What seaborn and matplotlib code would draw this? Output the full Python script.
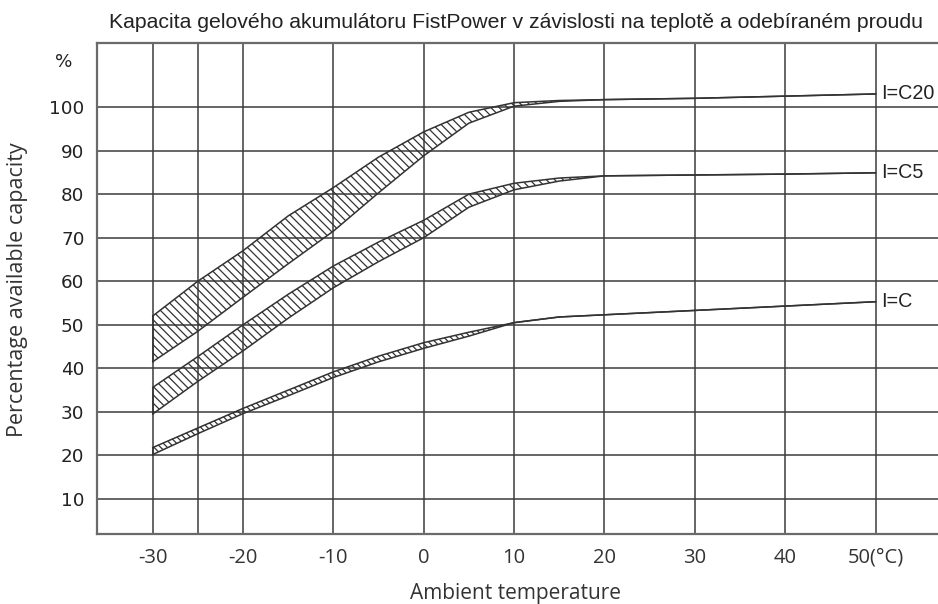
import numpy as np
import pandas as pd
import matplotlib
matplotlib.use("Agg")
import matplotlib.pyplot as plt
import matplotlib.transforms as mtransforms
import seaborn as sns

# ---- data ----
temps = [-30, -25, -20, -15, -10, -5, 0, 5, 10, 15, 20, 30, 40, 50]
c20_upper = [52.0, 60.0, 67.0, 75.0, 81.5, 88.5, 94.3, 98.8, 101.0, 101.5, 101.7, 102.0, 102.5, 103.0]
c20_lower = [41.5, 48.5, 56.3, 64.0, 71.5, 80.3, 88.8, 96.3, 100.2, 101.3, 101.7, 102.0, 102.5, 103.0]
c5_upper = [35.6, 42.7, 50.0, 57.0, 63.5, 69.0, 74.0, 80.0, 82.5, 83.7, 84.2, 84.4, 84.6, 84.9]
c5_lower = [29.5, 37.0, 44.0, 51.5, 58.5, 64.5, 70.0, 77.0, 81.0, 83.0, 84.2, 84.4, 84.6, 84.9]
c1_upper = [21.8, 26.3, 30.8, 35.0, 39.2, 42.8, 45.9, 48.3, 50.5, 51.8, 52.3, 53.3, 54.3, 55.3]
c1_lower = [20.2, 25.0, 29.6, 33.7, 37.9, 41.5, 44.6, 47.4, 50.5, 51.8, 52.3, 53.3, 54.3, 55.3]
series_names = ["I=C20", "I=C5", "I=C"]

x_ticks = [-30, -20, -10, 0, 10, 20, 30, 40, 50]
x_tick_labels = ["-30", "-20", "-10", "0", "10", "20", "30", "40", "50(°C)"]
x_grid = [-30, -25, -20, -10, 0, 10, 20, 30, 40, 50]
y_ticks = [10, 20, 30, 40, 50, 60, 70, 80, 90, 100]

title = "Kapacita gelového akumulátoru FistPower v závislosti na teplotě a odebíraném proudu"
x_label = "Ambient temperature"
y_label = "Percentage available capacity"

# ---- figure ----
sns.set_theme(style="white")
plt.rcParams["font.family"] = ["Liberation Sans", "DejaVu Sans"]
plt.rcParams["hatch.linewidth"] = 0.9

W, H = 938, 604
fig = plt.figure(figsize=(W / 100, H / 100), dpi=100)
ax = fig.add_axes([97 / W, 1 - 534 / H, (W - 97) / W, (534 - 43) / H])

ax.set_xlim(-36.15, 56.9)
ax.set_ylim(1.97, 114.7)

line_col = "#333333"
grid_col = "#3c3c3c"

# grid
for gx in x_grid:
    ax.axvline(gx, color=grid_col, lw=1.1, zorder=1)
for gy in y_ticks:
    ax.axhline(gy, color=grid_col, lw=1.1, zorder=1)

bands = [(c20_upper, c20_lower), (c5_upper, c5_lower), (c1_upper, c1_lower)]
hatches = ["\\\\\\\\", "\\\\\\\\", "\\\\\\\\\\"]
rows = []
for name, (up, lo) in zip(series_names, bands):
    for t, u, l in zip(temps, up, lo):
        rows.append({"series": name, "edge": "upper", "T": t, "v": u})
        rows.append({"series": name, "edge": "lower", "T": t, "v": l})
df = pd.DataFrame(rows)

for name, (up, lo), h in zip(series_names, bands, hatches):
    up_a = np.array(up)
    lo_a = np.array(lo)
    ax.fill_between(temps, lo_a, up_a, where=up_a >= lo_a, facecolor="none",
                    edgecolor=line_col, hatch=h, linewidth=0.0, zorder=2)
    sub = df[df.series == name]
    sns.lineplot(data=sub, x="T", y="v", units="edge", estimator=None, color=line_col,
                 lw=1.1, ax=ax, zorder=3, legend=False)
    # closing edge at the cold end
    ax.plot([temps[0], temps[0]], [lo[0], up[0]], color=line_col, lw=1.1, zorder=3)
    ax.text(temps[-1] + 0.6, up[-1], name, ha="left", va="center",
            fontsize=14.2, color="#222222", family=["Liberation Sans", "DejaVu Sans"], zorder=4)

# ticks
ax.set_xticks(x_ticks)
ax.set_xticklabels(x_tick_labels, family=["Open Sans", "DejaVu Sans"], fontsize=14.5, color="#333333")
ax.set_yticks(y_ticks)
ax.set_yticklabels([str(v) for v in y_ticks], family=["DejaVu Sans"], fontsize=13.2, color="#222222")
ax.tick_params(axis="both", length=0)
ax.tick_params(axis="x", pad=10)
ax.tick_params(axis="y", pad=9)
ax.set_xlabel("")
ax.set_ylabel("")

# "%" marker above 100
trans = mtransforms.blended_transform_factory(fig.transFigure, ax.transData)
ax.text(55 / W, 110.3, "%", transform=trans, ha="left", va="center", fontsize=13.2,
        family=["DejaVu Sans"], color="#222222")

for side in ["left", "top", "bottom"]:
    ax.spines[side].set_visible(True)
    ax.spines[side].set_color("#6a6a6a")
    ax.spines[side].set_linewidth(1.6)
ax.spines["right"].set_visible(False)

fig.text(516 / W, 1 - 22 / H, title, ha="center", va="center", fontsize=15.3,
         color="#222222", family=["Liberation Sans", "DejaVu Sans"])
fig.text(516 / W, 1 - 593 / H, x_label, ha="center", va="center", fontsize=15,
         color="#333333", family=["Open Sans", "DejaVu Sans"])
fig.text(18 / W, 1 - 290 / H, y_label, ha="center", va="center", rotation=90, fontsize=15.5,
         color="#333333", family=["Open Sans", "DejaVu Sans"])

fig.savefig("out.png", dpi=100, facecolor="white")
